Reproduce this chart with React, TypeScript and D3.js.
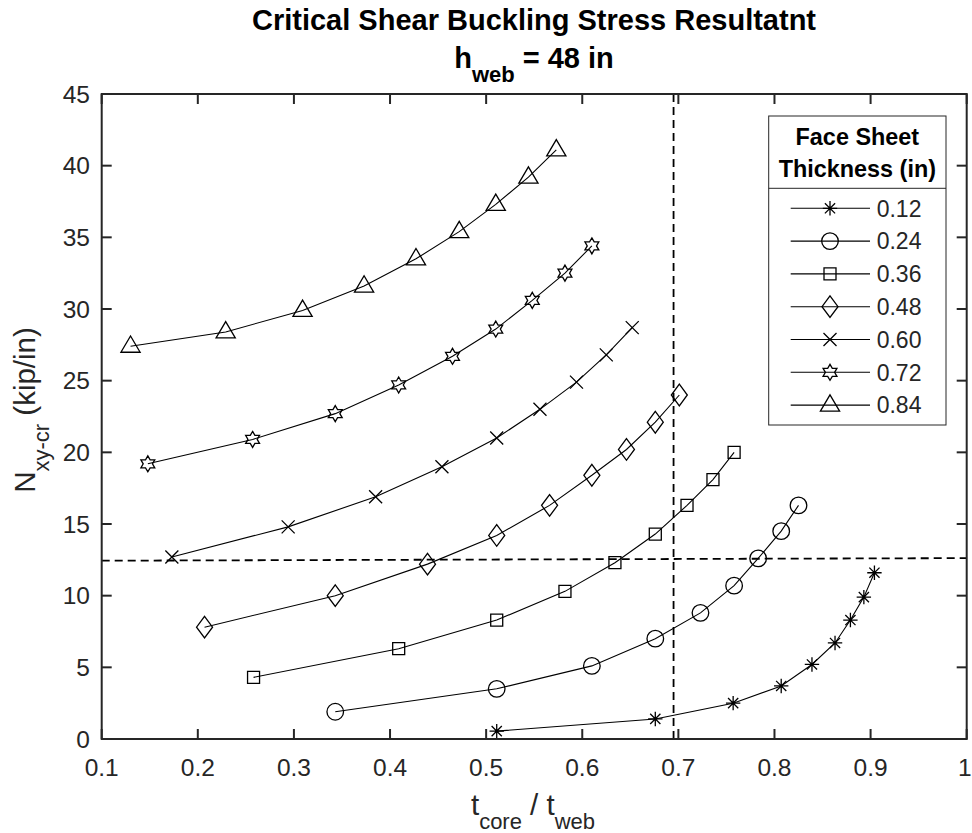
import React from "react";
import * as d3 from "d3";

// ---- data ----
const faceSheetLabels = ["0.12", "0.24", "0.36", "0.48", "0.60", "0.72", "0.84"];
const markerKinds = ["asterisk", "circle", "square", "diamond", "cross", "hexagram", "triangle"];

const t012X = [0.511, 0.676, 0.757, 0.807, 0.839, 0.863, 0.879, 0.893, 0.904];
const t012Y = [0.55, 1.4, 2.5, 3.7, 5.2, 6.7, 8.3, 9.9, 11.6];
const t024X = [0.343, 0.511, 0.610, 0.676, 0.723, 0.758, 0.783, 0.807, 0.825];
const t024Y = [1.9, 3.5, 5.1, 7.0, 8.8, 10.7, 12.6, 14.5, 16.3];
const t036X = [0.258, 0.409, 0.511, 0.582, 0.634, 0.676, 0.709, 0.736, 0.758];
const t036Y = [4.3, 6.3, 8.3, 10.3, 12.3, 14.3, 16.3, 18.1, 20.0];
const t048X = [0.207, 0.343, 0.439, 0.511, 0.566, 0.610, 0.646, 0.676, 0.701];
const t048Y = [7.8, 10.0, 12.2, 14.2, 16.3, 18.4, 20.2, 22.1, 24.0];
const t060X = [0.173, 0.294, 0.385, 0.454, 0.511, 0.556, 0.594, 0.625, 0.652];
const t060Y = [12.7, 14.8, 16.9, 19.0, 21.0, 23.0, 24.9, 26.8, 28.7];
const t072X = [0.148, 0.257, 0.343, 0.409, 0.465, 0.510, 0.548, 0.582, 0.610];
const t072Y = [19.2, 20.9, 22.7, 24.7, 26.7, 28.6, 30.6, 32.5, 34.4];
const t084X = [0.130, 0.229, 0.309, 0.373, 0.427, 0.472, 0.510, 0.544, 0.573];
const t084Y = [27.4, 28.4, 29.9, 31.6, 33.5, 35.4, 37.3, 39.2, 41.1];

const seriesX = [t012X, t024X, t036X, t048X, t060X, t072X, t084X];
const seriesY = [t012Y, t024Y, t036Y, t048Y, t060Y, t072Y, t084Y];

const xTicks = [0.1, 0.2, 0.3, 0.4, 0.5, 0.6, 0.7, 0.8, 0.9, 1];
const xTickLabels = ["0.1", "0.2", "0.3", "0.4", "0.5", "0.6", "0.7", "0.8", "0.9", "1"];
const yTicks = [0, 5, 10, 15, 20, 25, 30, 35, 40, 45];

// reference (dashed) lines
const refVerticalX = 0.695;
const refHorizX = [0.1, 1];
const refHorizY = [12.44, 12.62];

// ---- layout ----
const W = 972;
const H = 833;
const L = 101.7, R = 966.7, T = 94, B = 739;
const FONT = "'Liberation Sans', Arial, Helvetica, sans-serif";
const AX = "#262626";

function markerPath(kind: string): string {
  switch (kind) {
    case "asterisk":
      return "M0,-7.2L0,7.2M-7.2,0L7.2,0M-5.1,-5.1L5.1,5.1M-5.1,5.1L5.1,-5.1";
    case "circle":
      return d3.symbol().type(d3.symbolCircle).size(Math.PI * 8.3 * 8.3)() as string;
    case "square":
      return "M-6,-6H6V6H-6Z";
    case "diamond":
      return "M0,-10.8L8,0L0,10.8L-8,0Z";
    case "cross":
      return "M-6.5,-6.5L6.5,6.5M-6.5,6.5L6.5,-6.5";
    case "hexagram": {
      const pts: string[] = [];
      for (let k = 0; k < 12; k++) {
        const a = (-90 + k * 30) * Math.PI / 180;
        const r = k % 2 === 0 ? 8 : 4.62;
        pts.push(`${(r * Math.cos(a)).toFixed(2)},${(r * Math.sin(a)).toFixed(2)}`);
      }
      return "M" + pts.join("L") + "Z";
    }
    case "triangle":
      return "M0,-10.3L9.6,6L-9.6,6Z";
  }
  return "";
}

export default function App() {
  const x = d3.scaleLinear().domain([0.1, 1]).range([L, R]);
  const y = d3.scaleLinear().domain([0, 45]).range([B, T]);
  const line = d3.line<[number, number]>().x((d) => x(d[0])).y((d) => y(d[1]));

  const legL = 768.7, legR = 946, legT = 116, legSep = 188.3, legB = 425;
  const legCx = (legL + legR) / 2;
  const rowY = (i: number) => 208.3 + i * 32.8;

  return (
    <svg width={W} height={H} style={{ position: "absolute", left: 0, top: 0, background: "#fff" }} fontFamily={FONT}>
      <rect x={0} y={0} width={W} height={H} fill="#fff" />

      {/* series */}
      {seriesX.map((xs, i) => {
        const pts = xs.map((v, j) => [v, seriesY[i][j]] as [number, number]);
        const mp = markerPath(markerKinds[i]);
        return (
          <g key={i}>
            <path d={line(pts) as string} fill="none" stroke="#000" strokeWidth={1.1} />
            {pts.map((p, j) => (
              <path key={j} d={mp} transform={`translate(${x(p[0])},${y(p[1])})`} fill="none" stroke="#000" strokeWidth={1.3} />
            ))}
          </g>
        );
      })}

      {/* dashed reference lines */}
      <line x1={x(refVerticalX)} x2={x(refVerticalX)} y1={y(0)} y2={y(45)} stroke="#000" strokeWidth={1.8} strokeDasharray="8,5" />
      <line x1={x(refHorizX[0])} x2={x(refHorizX[1])} y1={y(refHorizY[0])} y2={y(refHorizY[1])} stroke="#000" strokeWidth={1.8} strokeDasharray="8,5" />

      {/* axes box & ticks */}
      <rect x={L} y={T} width={R - L} height={B - T} fill="none" stroke={AX} strokeWidth={2} />
      {xTicks.map((t, i) => (
        <g key={"xt" + i}>
          <line x1={x(t)} x2={x(t)} y1={B} y2={B - 10} stroke={AX} strokeWidth={2} />
          <line x1={x(t)} x2={x(t)} y1={T} y2={T + 10} stroke={AX} strokeWidth={2} />
          <text x={Math.min(x(t), W - 7.2)} y={776} textAnchor="middle" fontSize={24.5} fill={AX}>{xTickLabels[i]}</text>
        </g>
      ))}
      {yTicks.map((t, i) => (
        <g key={"yt" + i}>
          <line x1={L} x2={L + 10} y1={y(t)} y2={y(t)} stroke={AX} strokeWidth={2} />
          <line x1={R} x2={R - 10} y1={y(t)} y2={y(t)} stroke={AX} strokeWidth={2} />
          <text x={90} y={y(t)} dy="0.35em" textAnchor="end" fontSize={24.5} fill={AX}>{t}</text>
        </g>
      ))}

      {/* title */}
      <text x={534} y={29.5} textAnchor="middle" fontSize={29} fontWeight="bold" fill="#000">
        Critical Shear Buckling Stress Resultatnt
      </text>
      <text x={534} y={68.3} textAnchor="middle" fontSize={29} fontWeight="bold" fill="#000">
        h<tspan fontSize={22} dy={13.4}>web</tspan><tspan dy={-13.4}> = 48 in</tspan>
      </text>

      {/* x label */}
      <text x={533} y={815} textAnchor="middle" fontSize={29.5} fill={AX}>
        t<tspan fontSize={22} dy={14}>core</tspan><tspan dy={-14}> / t</tspan><tspan fontSize={22} dy={14}>web</tspan>
      </text>

      {/* y label */}
      <text transform={`translate(35,410) rotate(-90)`} textAnchor="middle" fontSize={29.5} fill={AX}>
        N<tspan fontSize={22} dy={14}>xy-cr</tspan><tspan dy={-14}> (kip/in)</tspan>
      </text>

      {/* legend */}
      <rect x={legL} y={legT} width={legR - legL} height={legB - legT} fill="#fff" stroke={AX} strokeWidth={1} />
      <line x1={legL} x2={legR} y1={legSep} y2={legSep} stroke={AX} strokeWidth={1} />
      <text x={legCx} y={145} textAnchor="middle" fontSize={23.4} fontWeight="bold" fill="#000">Face Sheet</text>
      <text x={legCx} y={177} textAnchor="middle" fontSize={23.4} fontWeight="bold" fill="#000">Thickness (in)</text>
      {faceSheetLabels.map((lab, i) => (
        <g key={"lg" + i}>
          <line x1={790.7} x2={870} y1={rowY(i)} y2={rowY(i)} stroke="#000" strokeWidth={1.1} />
          <path d={markerPath(markerKinds[i])} transform={`translate(830,${rowY(i)})`} fill="none" stroke="#000" strokeWidth={1.3} />
          <text x={876.7} y={rowY(i)} dy="0.36em" fontSize={23} fill={AX}>{lab}</text>
        </g>
      ))}
    </svg>
  );
}
